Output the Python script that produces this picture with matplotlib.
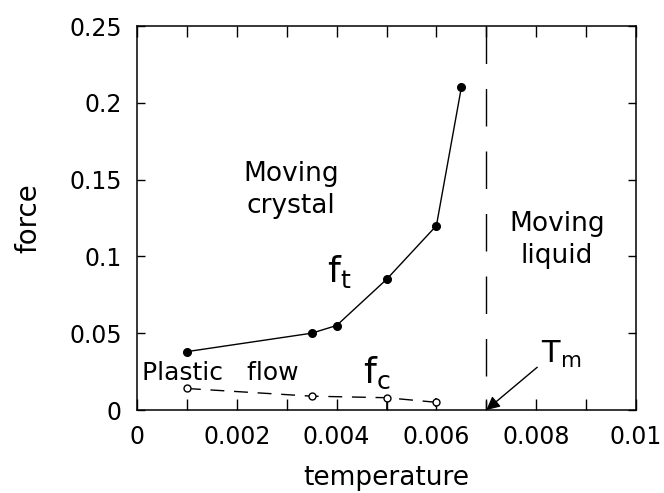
import matplotlib
matplotlib.use("Agg")
import matplotlib.pyplot as plt
from matplotlib.ticker import MultipleLocator

# transition force f_t (filled circles)
temp_t = [0.001, 0.0035, 0.004, 0.005, 0.006, 0.0065]
force_t = [0.038, 0.050, 0.055, 0.085, 0.120, 0.210]

# critical force f_c (open circles) with asymmetric error bars
temp_c = [0.001, 0.0035, 0.005, 0.006]
force_c = [0.014, 0.009, 0.008, 0.005]
err_c_low = [0.0, 0.0, 0.008, 0.003]
err_c_high = [0.0, 0.0, 0.002, 0.003]

T_melt = 0.007

x_ticks = [0, 0.002, 0.004, 0.006, 0.008, 0.01]
x_tick_labels = ['0', '0.002', '0.004', '0.006', '0.008', '0.01']
y_ticks = [0, 0.05, 0.1, 0.15, 0.2, 0.25]
y_tick_labels = ['0', '0.05', '0.1', '0.15', '0.2', '0.25']

plt.rcParams['font.family'] = ['DejaVu Sans']
plt.rcParams['mathtext.fontset'] = 'dejavusans'
fig = plt.figure(figsize=(6.64, 4.93), dpi=100)
ax = fig.add_axes([137 / 664, 1 - 410 / 493, 499 / 664, 384 / 493])

ax.plot(temp_t, force_t, '-', color='black', lw=1.0, marker='o', ms=5.5,
        mfc='black', mec='black')
ax.errorbar(temp_c, force_c, yerr=[err_c_low, err_c_high], fmt='o', ms=5,
            mfc='white', mec='black', mew=1.0, ecolor='black',
            elinewidth=1.2, capsize=0, zorder=3)
ax.plot(temp_c, force_c, '-', color='black', lw=1.0, dashes=(10, 7), zorder=2)

# melting temperature marker, dashed from the top down
ax.plot([T_melt, T_melt], [0.25, 0], color='black', lw=1.0, dashes=(27, 18))

ax.set_xlim(0, 0.01)
ax.set_ylim(0, 0.25)
ax.set_xticks(x_ticks)
ax.set_xticklabels(x_tick_labels)
ax.xaxis.set_minor_locator(MultipleLocator(0.001))
ax.set_yticks(y_ticks)
ax.set_yticklabels(y_tick_labels)
ax.tick_params(axis='both', which='both', direction='in', labelsize=17,
               top=True, right=True, pad=11, width=1)
ax.tick_params(axis='x', which='both', length=8)
ax.tick_params(axis='y', which='major', length=6)
for s in ax.spines.values():
    s.set_linewidth(1.1)

ax.set_xlabel('temperature', fontsize=19, labelpad=11)
ax.set_ylabel('force', fontsize=20, labelpad=19)

ax.text(0.00308, 0.143, 'Moving\ncrystal', fontsize=19, ha='center',
        va='center', linespacing=1.3)
ax.text(0.00842, 0.111, 'Moving\nliquid', fontsize=19, ha='center',
        va='center', linespacing=1.3)
ax.text(0.00405, 0.090, r'f$_\mathregular{t}$', fontsize=26, ha='center',
        va='center')
ax.text(0.0048, 0.024, r'f$_\mathregular{c}$', fontsize=26, ha='center',
        va='center')
ax.text(0.0001, 0.024, 'Plastic   flow', fontsize=18, ha='left', va='center')
ax.annotate(r'T$_\mathregular{m}$', xy=(T_melt, 0), xytext=(0.0085, 0.036),
            fontsize=22, ha='center', va='center',
            arrowprops=dict(arrowstyle='-|>', color='black', lw=1.0,
                            shrinkA=1, shrinkB=0, mutation_scale=20,
                            relpos=(0.0, 0.2)))

fig.savefig('out.png', dpi=100)
